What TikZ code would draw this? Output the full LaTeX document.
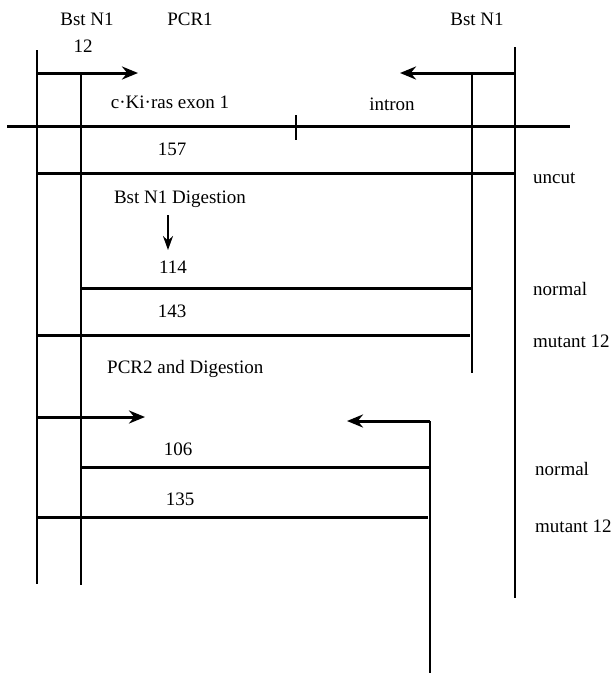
\documentclass[tikz,border=0pt]{standalone}
\usepackage{fontspec}
\setmainfont{Liberation Serif}
\usetikzlibrary{arrows.meta}

\begin{document}
\begin{tikzpicture}[x=1pt, y=-1pt, >={Stealth[length=16pt, width=13pt]},
  lbl/.style={anchor=base, inner sep=0pt, font=\fontsize{19}{22}\selectfont},
  side/.style={lbl, anchor=base west},
  cut/.style={line width=1.1pt},
  frag/.style={line width=3pt},
  primer/.style={line width=3pt, ->}]
  \useasboundingbox (0,0) rectangle (615,675);

  % labels
  \node[lbl] (bstL) at (87,25) {Bst N1};
  \node[lbl] (pcr1) at (190,25) {PCR1};
  \node[lbl] (bstR) at (477,25) {Bst N1};
  \node[lbl] (c12) at (83,52) {12};
  \node[lbl] (exon) at (170,108) {c·Ki·ras exon 1};
  \node[lbl] (intron) at (392,110) {intron};
  \node[lbl] (n157) at (172,155) {157};
  \node[side] (uncut) at (533,183) {uncut};
  \node[lbl] (digest) at (180,203) {Bst N1 Digestion};
  \node[lbl] (n114) at (173,273) {114};
  \node[side] (norm1) at (533,295) {normal};
  \node[lbl] (n143) at (172,317) {143};
  \node[side] (mut1) at (533,347) {mutant 12};
  \node[side] (pcr2) at (107,373) {PCR2 and Digestion};
  \node[lbl] (n106) at (178,455) {106};
  \node[side] (norm2) at (535,475) {normal};
  \node[lbl] (n135) at (180,505) {135};
  \node[side] (mut2) at (535,532) {mutant 12};

  % ends of the lines
  \coordinate (l1t) at (37,50);   \coordinate (l1b) at (37,584);
  \coordinate (l2t) at (81,73);   \coordinate (l2b) at (81,585);
  \coordinate (l3t) at (472,75);  \coordinate (l3b) at (472,373);
  \coordinate (l4t) at (515,47);  \coordinate (l4b) at (515,598);
  \coordinate (l5t) at (430,421); \coordinate (l5b) at (430,673);
  \coordinate (geneL) at (7,126); \coordinate (geneR) at (570,126);
  \coordinate (tickT) at (296,115); \coordinate (tickB) at (296,140);

  % cut sites
  \draw[cut] (l1t) -- (l1b);
  \draw[cut] (l2t) -- (l2b);
  \draw[cut] (l3t) -- (l3b);
  \draw[cut] (l4t) -- (l4b);
  \draw[cut] (l5t) -- (l5b);

  % gene
  \draw[frag] (geneL) -- (geneR);
  \draw[line width=2.5pt] (tickT) -- (tickB);

  % PCR1 primers
  \draw[primer] (l1t |- l2t) -- (138,73);
  \draw[primer] (l4t |- l2t) -- (400,73);

  % fragments
  \draw[frag] (37,173) -- (515,173);
  \draw[line width=2pt, ->, >={Stealth[length=14pt, width=10pt]}] (168,215) -- (168,250);
  \draw[frag] (81,288) -- (l3t |- 0,288);
  \draw[frag] (37,335) -- (470,335);

  % PCR2 primers
  \draw[primer] (37,417) -- (145,417);
  \draw[primer] (l5t) -- (347,421);
  \draw[frag] (81,467) -- (l5t |- 0,467);
  \draw[frag] (37,517) -- (428,517);
\end{tikzpicture}
\end{document}
